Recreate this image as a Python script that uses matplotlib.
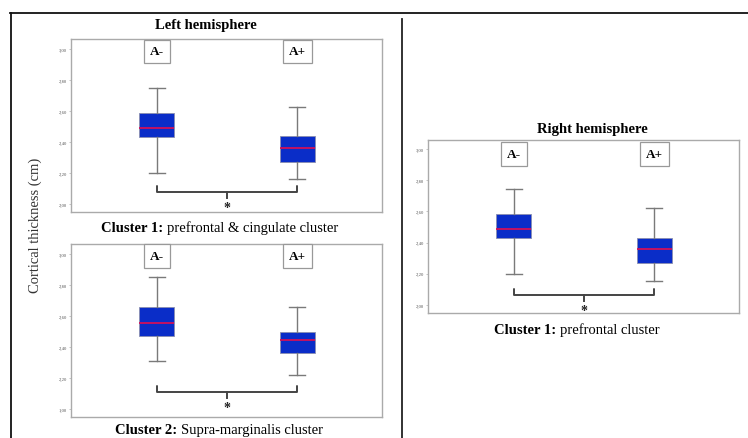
import matplotlib.pyplot as plt

plt.rcParams['font.family'] = ['Liberation Serif', 'DejaVu Serif']

groups = ["A-", "A+"]
tick_vals = [2.0, 2.2, 2.4, 2.6, 2.8, 3.0]
tick_labels_12 = ["2,00", "2,20", "2,40", "2,60", "2,80", "3,00"]
tick_labels_2 = ["1,00", "2,20", "2,40", "2,60", "2,80", "3,00"]

# box statistics per panel: [A-, A+]
c1_left_whislo = [2.20, 2.16]
c1_left_q1 = [2.43, 2.27]
c1_left_med = [2.49, 2.36]
c1_left_q3 = [2.587, 2.439]
c1_left_whishi = [2.748, 2.626]

c2_left_whislo = [2.312, 2.219]
c2_left_q1 = [2.473, 2.363]
c2_left_med = [2.557, 2.447]
c2_left_q3 = [2.66, 2.499]
c2_left_whishi = [2.854, 2.66]

c1_right_whislo = [2.199, 2.156]
c1_right_q1 = [2.428, 2.269]
c1_right_med = [2.487, 2.357]
c1_right_q3 = [2.581, 2.431]
c1_right_whishi = [2.744, 2.62]

W, H = 748, 439
fig = plt.figure(figsize=(W / 100, H / 100), dpi=100)
renderer = fig.canvas.get_renderer()


def px_axes(x0, y0, x1, y1):
    return fig.add_axes([x0 / W, 1 - y1 / H, (x1 - x0) / W, (y1 - y0) / H])


def panel(ax, wlo, q1, med, q3, whi, ylim, labels, bracket_y, label_y):
    stats = []
    for i in range(2):
        stats.append(dict(whislo=wlo[i], q1=q1[i], med=med[i], q3=q3[i], whishi=whi[i], fliers=[]))
    ax.bxp(stats, positions=[1, 2], widths=0.25, patch_artist=True, showfliers=False,
           capwidths=0.12,
           boxprops=dict(facecolor='#0a2dc8', edgecolor='#8a8fb0', linewidth=0.6),
           medianprops=dict(color='#d0105a', linewidth=1.3),
           whiskerprops=dict(color='#7a7a7a', linewidth=1.0),
           capprops=dict(color='#7a7a7a', linewidth=1.0))
    ax.set_xlim(0.386, 2.607)
    ax.set_ylim(*ylim)
    ax.set_xticks([])
    ax.set_yticks(tick_vals)
    ax.set_yticklabels(labels)
    ax.tick_params(axis='y', labelsize=3.4, labelcolor='#555555', length=1.5,
                   width=0.4, color='#999999', pad=1.5)
    for s in ax.spines.values():
        s.set_color('#aaaaaa')
        s.set_linewidth(1.0)
    for i, g in enumerate(groups):
        ax.text(i + 1, label_y, g, ha='center', va='center', fontsize=9.5, fontweight='bold',
                bbox=dict(boxstyle='square,pad=0.45', facecolor='white',
                          edgecolor='#999999', linewidth=0.9))
    # significance bracket
    arm = 0.04
    ax.plot([1, 1, 2, 2], [bracket_y + arm, bracket_y, bracket_y, bracket_y + arm],
            color='#444444', linewidth=1.4, solid_joinstyle='round', solid_capstyle='round')
    ax.plot([1.5, 1.5], [bracket_y, bracket_y - arm], color='#444444', linewidth=1.4)
    ax.text(1.5, bracket_y - arm - 0.015, "*", ha='center', va='top', fontsize=10,
            fontweight='bold', color='#222222')


ax1 = px_axes(71, 40, 382, 213)
panel(ax1, c1_left_whislo, c1_left_q1, c1_left_med, c1_left_q3, c1_left_whishi,
      (1.948, 3.0645), tick_labels_12, 2.077, 2.984)
ax2 = px_axes(71, 245, 382, 418)
panel(ax2, c2_left_whislo, c2_left_q1, c2_left_med, c2_left_q3, c2_left_whishi,
      (1.948, 3.0645), tick_labels_2, 2.108, 2.987)
ax3 = px_axes(428, 141, 739, 314)
panel(ax3, c1_right_whislo, c1_right_q1, c1_right_med, c1_right_q3, c1_right_whishi,
      (1.949, 3.058), tick_labels_12, 2.064, 2.968)


def fig_text(x, y, s, **kw):
    return fig.text(x / W, 1 - y / H, s, **kw)


def caption(x, y, bold, rest):
    # bold lead-in followed by regular text, centred as a whole on x
    t1 = fig_text(0, y, bold + " ", ha='left', va='center', fontsize=10.5, fontweight='bold')
    t2 = fig_text(0, y, rest, ha='left', va='center', fontsize=10.5)
    w1 = t1.get_window_extent(renderer).width
    w2 = t2.get_window_extent(renderer).width
    x0 = x - (w1 + w2) / 2
    t1.set_x(x0 / W)
    t2.set_x((x0 + w1) / W)


fig_text(206, 26, "Left hemisphere", ha='center', va='center', fontsize=10.5, fontweight='bold')
fig_text(592, 129, "Right hemisphere", ha='center', va='center', fontsize=10.5, fontweight='bold')
caption(220, 228, "Cluster 1:", "prefrontal & cingulate cluster")
caption(219, 431, "Cluster 2:", "Supra-marginalis cluster")
caption(577, 330, "Cluster 1:", "prefrontal cluster")
fig_text(35, 225, "Cortical thickness (cm)", ha='center', va='center', rotation=90,
         fontsize=10.5, color='#333333')

# frame lines
fig.add_artist(plt.Line2D([10 / W, 1], [1 - 14 / H, 1 - 14 / H], color='#111111', linewidth=1.3))
fig.add_artist(plt.Line2D([11 / W, 11 / W], [0, 1 - 14 / H], color='#111111', linewidth=1.3))
fig.add_artist(plt.Line2D([402 / W, 402 / W], [0, 1 - 20 / H], color='#222222', linewidth=1.3))

fig.savefig("out.png", dpi=100)
